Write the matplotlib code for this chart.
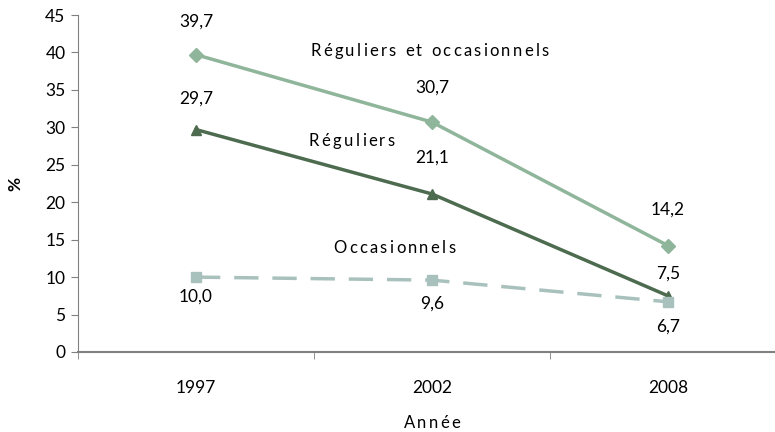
import matplotlib.pyplot as plt
from matplotlib.font_manager import FontProperties
from matplotlib.textpath import TextToPath

years = ['1997', '2002', '2008']
reg_occ = [39.7, 30.7, 14.2]
reguliers = [29.7, 21.1, 7.5]
occasionnels = [10.0, 9.6, 6.7]

plt.rcParams['font.family'] = ['Lato', 'DejaVu Sans']
plt.rcParams['font.size'] = 12.5

fig = plt.figure(figsize=(7.75, 4.32), dpi=100)
ax = fig.add_axes([78 / 775, 80 / 432, 708 / 775, 337 / 432])

x = [1, 2, 3]
c_ro = '#8fb59b'
c_r = '#4d6b4f'
c_o = '#a9c1bd'

ax.plot(x, reg_occ, color=c_ro, lw=2.5, marker='D', ms=7)
ax.plot(x, reguliers, color=c_r, lw=2.5, marker='^', ms=7)
ax.plot(x, occasionnels, color=c_o, lw=2.5, marker='s', ms=6.5, dashes=(7, 4))

def fmt(v):
    return ('%.1f' % v).replace('.', ',')

# label offsets in points, above (+) or below (-) each point
offs_ro = [24, 24.5, 26]
offs_r = [22, 26, 16]
offs_o = [-14, -17, -18]
for vals, offs in [(reg_occ, offs_ro), (reguliers, offs_r), (occasionnels, offs_o)]:
    for xi, v, o in zip(x, vals, offs):
        ax.annotate(fmt(v), (xi, v), xytext=(0, o), textcoords='offset points',
                    ha='center', va='center')

ttp = TextToPath()

def tracked(s, xy, coords, size=12, track=1.65):
    # letter-spaced text centred on xy, drawn one glyph at a time
    prop = FontProperties(family='Lato', size=size)
    def w(t):
        return ttp.get_text_width_height_descent(t, prop, ismath=False)[0]
    lefts = []
    for j, ch in enumerate(s):
        if ch != ' ':
            lefts.append((ch, w(s[:j + 1]) - w(ch) + track * j))
    total = w(s) + track * (len(s) - 1)
    for ch, l in lefts:
        ax.annotate(ch, xy, xycoords=coords, xytext=(l - total / 2, -0.36 * size),
                    textcoords='offset points', ha='left', va='baseline',
                    fontproperties=prop, annotation_clip=False)

tracked('Réguliers et occasionnels', (1.99, 40.3), 'data')
tracked('Réguliers', (1.66, 28.3), 'data')
tracked('Occasionnels', (1.84, 14.0), 'data')
tracked('Année', (432 / 775, 10 / 432), 'figure fraction')

ax.set_xlim(0.5, 3.5)
ax.set_ylim(0, 45)
ax.set_yticks(range(0, 46, 5))
ax.set_xticks(x)
ax.set_xticklabels(years)
ax.set_xticks([0.5, 1.5, 2.5, 3.5], minor=True)
ax.tick_params(axis='x', which='major', length=0, pad=20)
ax.tick_params(axis='x', which='minor', length=5, color='#808080')
ax.tick_params(axis='y', length=5, color='#808080', pad=4)

for s in ['top', 'right']:
    ax.spines[s].set_visible(False)
for s in ['left', 'bottom']:
    ax.spines[s].set_color('#808080')
ax.spines['bottom'].set_linewidth(1.5)

ax.set_ylabel('%', fontweight='bold', labelpad=16)

fig.savefig('out.png', dpi=100)
